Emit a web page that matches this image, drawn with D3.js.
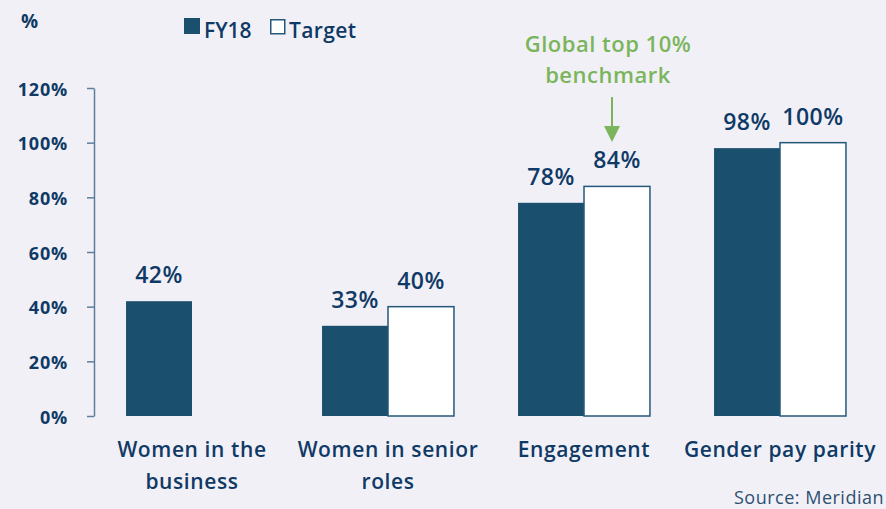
<!DOCTYPE html>
<html>
<head>
<meta charset="utf-8">
<script src="https://cdn.jsdelivr.net/npm/d3@7"></script>
<style>
  body { margin: 0; background: #f2f0f7; }
  svg { display: block; font-family: "Open Sans", sans-serif; }
</style>
</head>
<body>
<div id="chartDiv"></div>
<script>
// chart data
var categories = [["Women in the", "business"], ["Women in senior", "roles"], ["Engagement"], ["Gender pay parity"]];
var series = ["FY18", "Target"];
var fy18 = [42, 33, 78, 98];
var target = [null, 40, 84, 100];
var yTicks = [0, 20, 40, 60, 80, 100, 120];

var width = 886, height = 509;
var navy = "#0f3a66", barColor = "#1b4f6e", green = "#7ab55c";

var svg = d3.select("#chartDiv")
            .append("svg")
            .attr("width", width)
            .attr("height", height);

svg.append("rect").attr("width", width).attr("height", height).attr("fill", "#f2f0f7");

// scales
var x0 = d3.scaleBand()
           .domain(d3.range(categories.length))
           .range([94, 878])
           .paddingInner(0.327)
           .paddingOuter(0.1635);
var x1 = d3.scaleBand().domain(series).range([0, x0.bandwidth()]);
var y = d3.scaleLinear().domain([0, 120]).range([416, 88]);

// y axis
var yAxis = svg.append("g")
               .attr("transform", "translate(94,0)")
               .call(d3.axisLeft(y).tickValues(yTicks).tickSize(7).tickSizeOuter(0)
                      .tickFormat(function(d) { return d + "%"; }));
yAxis.selectAll("path, line").attr("stroke", "#5b7f9c").attr("stroke-width", 1.5);
yAxis.selectAll("text")
     .attr("x", -26)
     .attr("dy", "0.4em")
     .attr("fill", navy)
     .attr("font-size", 18)
     .attr("font-weight", 700)
     .attr("letter-spacing", 0.8)
     .style("font-family", "Open Sans, sans-serif");

svg.append("text").attr("x", 21).attr("y", 28).text("%")
   .attr("fill", navy).attr("font-size", 19).attr("font-weight", 700);

// bars
var rows = [];
categories.forEach(function(c, i) {
    rows.push({ i: i, s: "FY18", v: fy18[i] });
    if (target[i] != null) rows.push({ i: i, s: "Target", v: target[i] });
});

svg.selectAll(".bar")
   .data(rows)
   .enter()
   .append("rect")
   .attr("x", function(d) { return x0(d.i) + x1(d.s); })
   .attr("y", function(d) { return y(d.v); })
   .attr("width", x1.bandwidth())
   .attr("height", function(d) { return y(0) - y(d.v); })
   .attr("fill", function(d) { return d.s == "FY18" ? barColor : "#ffffff"; })
   .attr("stroke", function(d) { return d.s == "FY18" ? "none" : "#24587a"; })
   .attr("stroke-width", 1.5);

svg.selectAll(".val")
   .data(rows)
   .enter()
   .append("text")
   .attr("x", function(d) { return x0(d.i) + x1(d.s) + x1.bandwidth() / 2; })
   .attr("y", function(d) { return y(d.v) - 18; })
   .attr("text-anchor", "middle")
   .attr("fill", navy)
   .attr("font-size", 23)
   .attr("font-weight", 600)
   .attr("letter-spacing", 0.5)
   .text(function(d) { return d.v + "%"; });

// category labels
categories.forEach(function(c, i) {
    var t = svg.append("text")
               .attr("text-anchor", "middle")
               .attr("fill", navy)
               .attr("font-size", 21)
               .attr("font-weight", 600)
               .attr("letter-spacing", 0.6);
    c.forEach(function(line, k) {
        t.append("tspan").attr("x", x0(i) + x0.bandwidth() / 2).attr("y", 457 + k * 32).text(line);
    });
});

// legend
var legend = svg.append("g");
legend.append("rect").attr("x", 184).attr("y", 18).attr("width", 16).attr("height", 16).attr("fill", barColor);
legend.append("text").attr("x", 204).attr("y", 38).text("FY18")
      .attr("fill", navy).attr("font-size", 21).attr("font-weight", 600);
legend.append("rect").attr("x", 270.75).attr("y", 19.75).attr("width", 14).attr("height", 14)
      .attr("fill", "#fff").attr("stroke", "#24587a").attr("stroke-width", 1.5);
legend.append("text").attr("x", 289).attr("y", 38).text("Target")
      .attr("fill", navy).attr("font-size", 21).attr("font-weight", 600).attr("letter-spacing", 0.4);

// benchmark annotation
var ax = x0(2) + x1("Target") + x1.bandwidth() / 2 - 5;
var note = svg.append("text").attr("text-anchor", "middle").attr("fill", green)
              .attr("font-size", 22).attr("font-weight", 600).attr("letter-spacing", 0.5);
note.append("tspan").attr("x", ax - 4).attr("y", 52).text("Global top 10%");
note.append("tspan").attr("x", ax - 4).attr("y", 83).text("benchmark");
svg.append("line").attr("x1", ax).attr("x2", ax).attr("y1", 97).attr("y2", 128)
   .attr("stroke", green).attr("stroke-width", 2);
svg.append("path")
   .attr("d", d3.line()([[ax - 8, 126], [ax + 8, 126], [ax, 142]]) + "Z")
   .attr("fill", green);

// source
svg.append("text").attr("x", 884).attr("y", 504).attr("text-anchor", "end")
   .attr("fill", "#2d5070").attr("font-size", 18).attr("letter-spacing", 0.5).text("Source: Meridian");
</script>
</body>
</html>
